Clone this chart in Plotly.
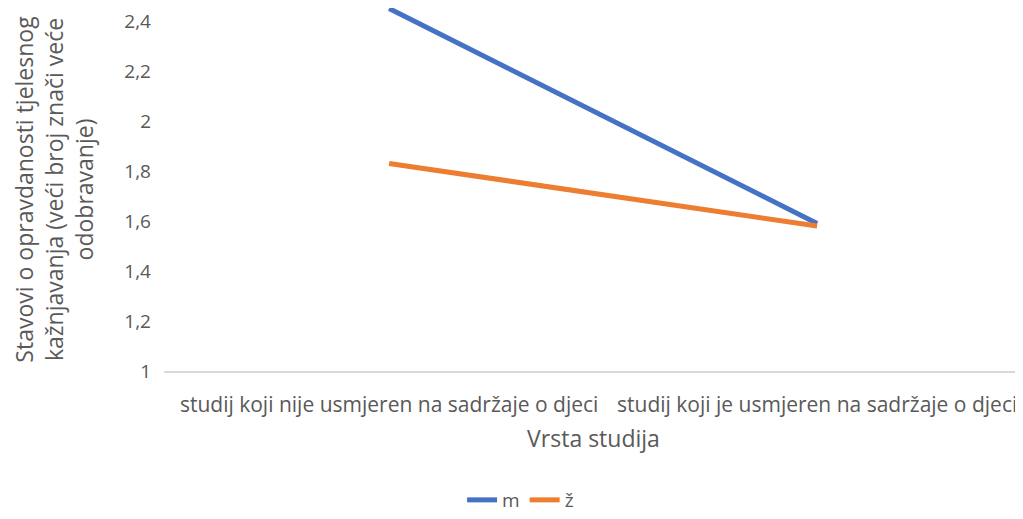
import plotly.graph_objects as go

categories = ["studij koji nije usmjeren na sadržaje o djeci",
              "studij koji je usmjeren na sadržaje o djeci"]
m_values = [2.45, 1.59]
z_values = [1.83, 1.58]
y_ticks = [1, 1.2, 1.4, 1.6, 1.8, 2, 2.2, 2.4]
y_tick_labels = ["1", "1,2", "1,4", "1,6", "1,8", "2", "2,2", "2,4"]

FONT = "Open Sans"
GREY = "#595959"

# The page body has an 8px margin, so the figure is 8px smaller than the window.
fig = go.Figure()
fig.add_trace(go.Scatter(x=[0, 1], y=m_values, mode="lines", name="m", cliponaxis=False,
                         line=dict(color="#4472C4", width=5)))
fig.add_trace(go.Scatter(x=[0, 1], y=z_values, mode="lines", name="ž", cliponaxis=False,
                         line=dict(color="#ED7D31", width=5)))

fig.update_layout(
    width=1015, height=511,
    margin=dict(l=156, r=0, t=0, b=148, autoexpand=False),
    plot_bgcolor="white", paper_bgcolor="white",
    font=dict(family=FONT, color=GREY),
    showlegend=True,
    legend=dict(orientation="h", xref="container", x=0.505, xanchor="center",
                y=-0.3554, yanchor="middle",
                font=dict(size=19, color=GREY, family=FONT)),
    xaxis=dict(
        tickmode="array", tickvals=[0, 1], ticktext=categories,
        range=[-0.526, 1.481], showgrid=False, zeroline=False, automargin=False,
        showline=True, linecolor="#D9D9D9", linewidth=1.5, ticklabeloverflow="allow",
        ticks="", tickfont=dict(size=21, color=GREY, family=FONT), ticklabelstandoff=14,
        title=dict(text="Vrsta studija", font=dict(size=23, color=GREY, family=FONT), standoff=14),
    ),
    yaxis=dict(
        range=[1, 1 + 363 / 250], tickmode="array", tickvals=y_ticks, ticktext=y_tick_labels,
        showgrid=False, zeroline=False, showline=False, ticks="", automargin=False,
        ticklabeloverflow="allow",
        tickfont=dict(size=19, color=GREY, family=FONT), ticklabelstandoff=12,
        title=dict(text="Stavovi o opravdanosti tjelesnog<br>kažnjavanja (veći broj znači veće<br>odobravanje)",
                   font=dict(size=23, color=GREY, family=FONT), standoff=30),
    ),
)

fig.write_html("out.html")
